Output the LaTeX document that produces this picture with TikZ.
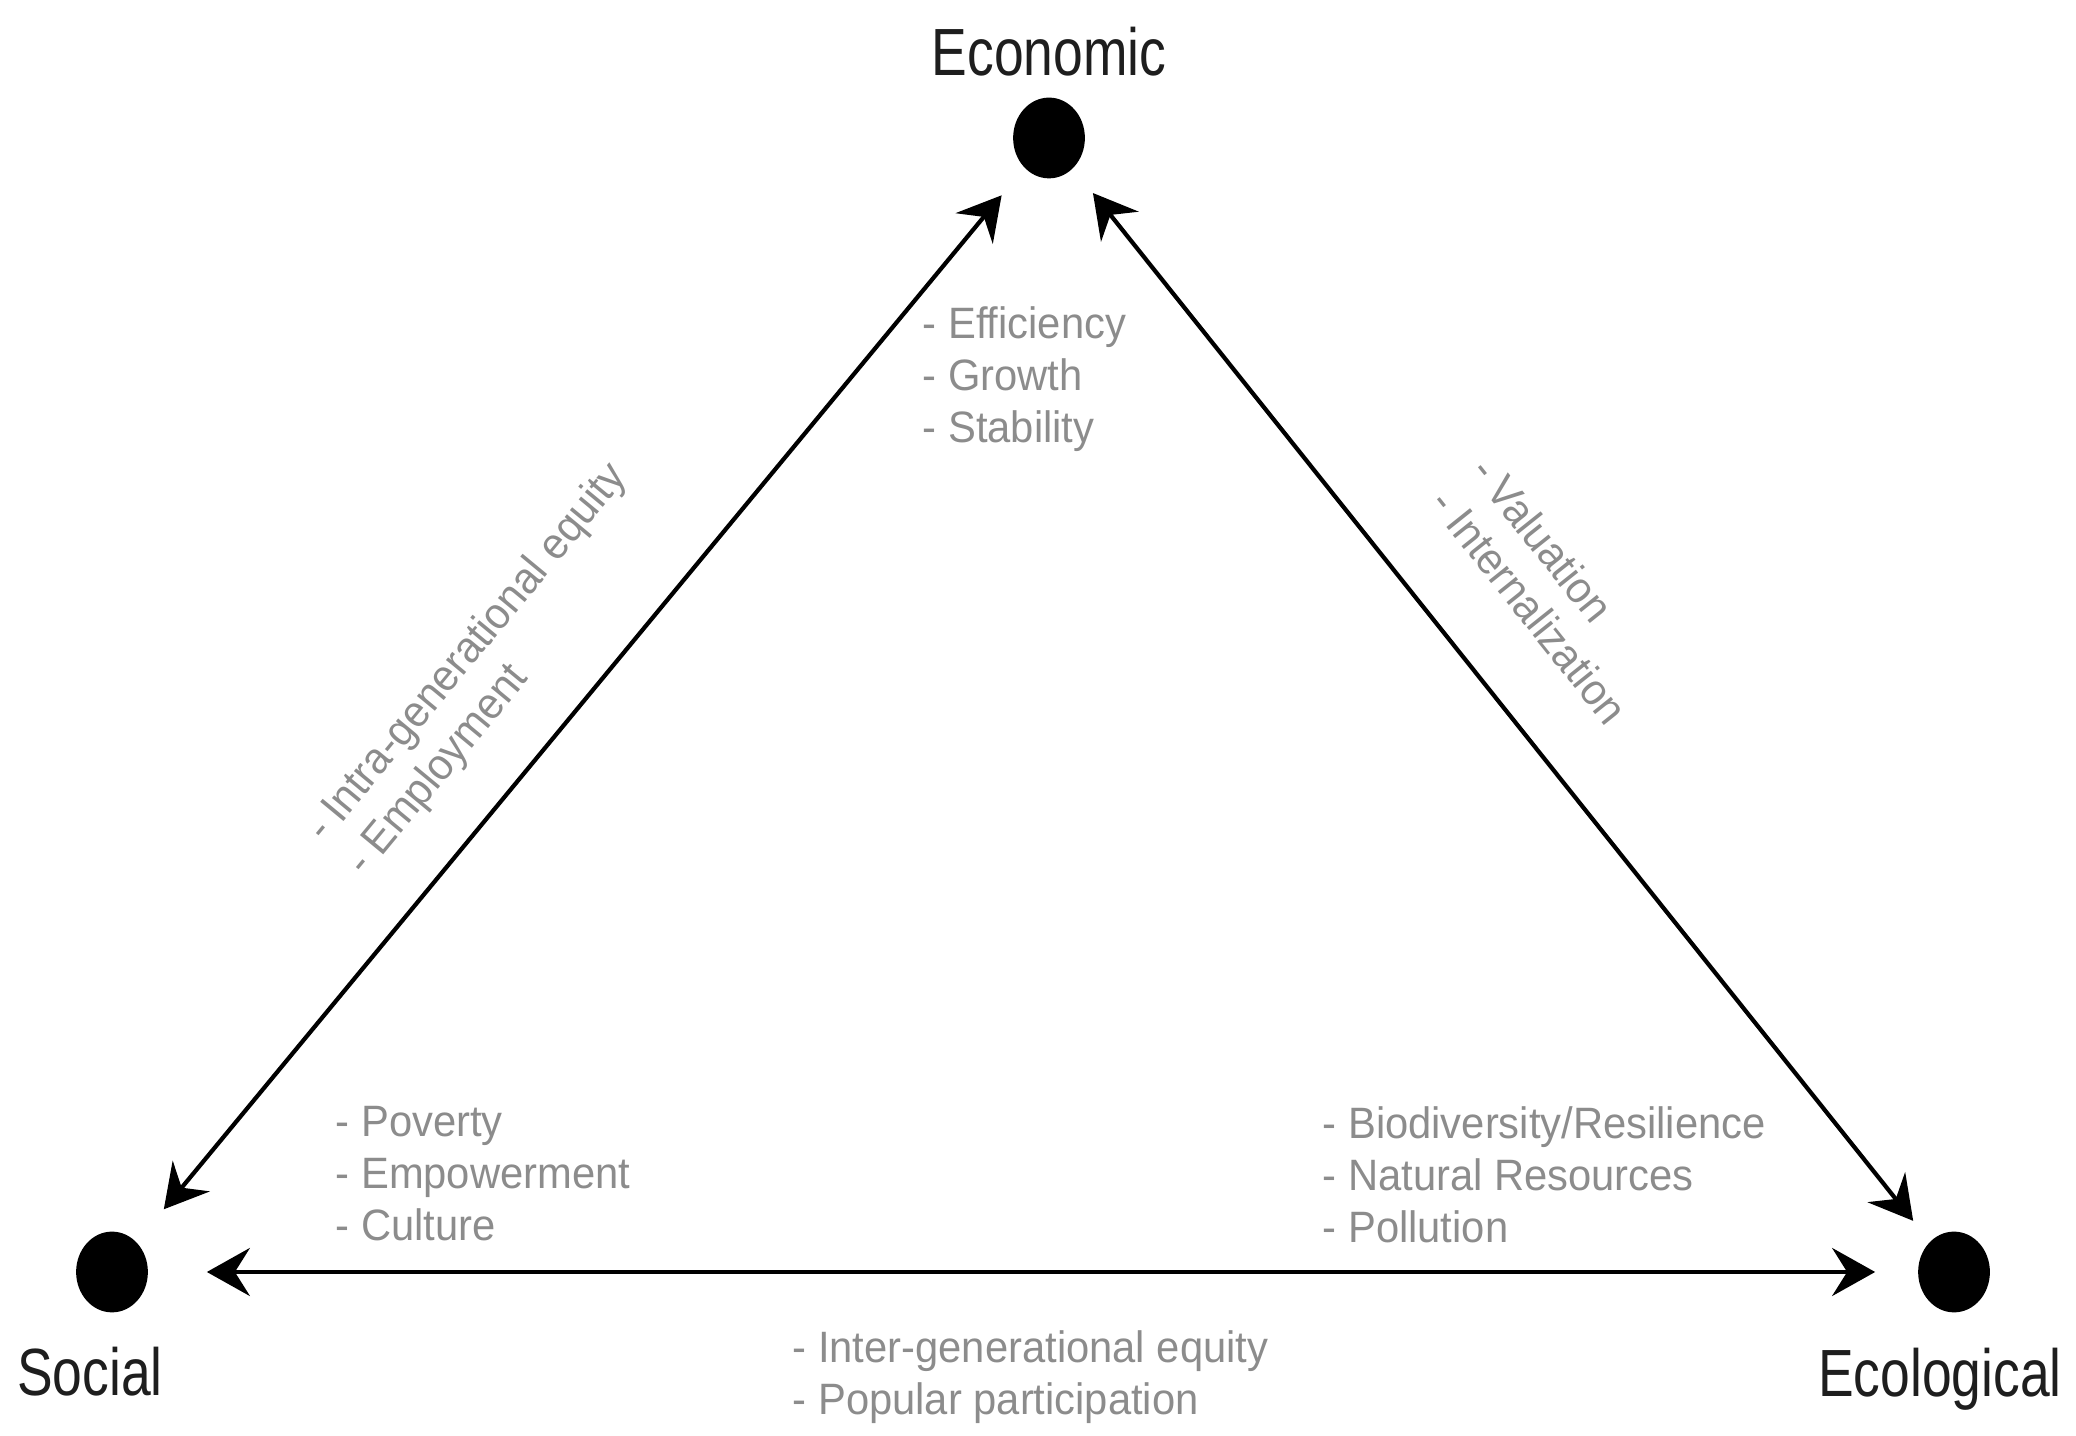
\documentclass[tikz,border=0pt]{standalone}
\usepackage{fontspec}
\usepackage{tikz}
\usetikzlibrary{arrows.meta, positioning, shapes.geometric}
\newfontfamily\lblfont[FakeStretch=0.8]{Liberation Sans}
\newfontfamily\lstfont[FakeStretch=0.95]{Liberation Sans}
\definecolor{cDot}{HTML}{000000}
\definecolor{cLbl}{HTML}{1E1E1E}
\definecolor{cLst}{HTML}{8C8C8C}

\begin{document}
\begin{tikzpicture}[
    dot/.style={ellipse, fill=cDot, draw=cDot, minimum width=7mm, minimum height=7.9mm,
                inner sep=0pt, line width=0.5pt},
    lbl/.style={font=\fontsize{19}{22}\selectfont\lblfont, text=cLbl, inner sep=0pt},
    lst/.style={font=\fontsize{12.5}{14.8}\selectfont\lstfont, text=cLst, align=left, inner sep=0pt},
    ar/.style={{Stealth[length=4.3mm,width=4.8mm,inset=1.5mm]}-{Stealth[length=4.3mm,width=4.8mm,inset=1.5mm]},
               line width=1.2pt},
]
\useasboundingbox (0,0) rectangle (20.76,14.35);

% === CORNERS: Economic, Social, Ecological ===
\node[dot] (econ) at (10.49,12.97) {};
\node[lbl, above=2.1mm of econ] (econL) {Economic};

\node[dot] (soc) at (1.12,1.63) {};
\node[lbl, below=3.4mm of soc, xshift=-2.2mm] (socL) {Social};

\node[dot] (ecl) at (19.54,1.63) {};
\node[lbl, below=3.5mm of ecl, xshift=-1.4mm] (eclL) {Ecological};

% === EDGES ===
\draw[ar, shorten <=4.3mm, shorten >=3.6mm] (soc) -- (econ);
\draw[ar, shorten <=3.2mm, shorten >=2.7mm] (econ) -- (ecl);
\draw[ar, shorten <=5.9mm, shorten >=4.3mm] (soc) -- (ecl);

% === LISTS at the corners ===
\node[lst, anchor=north west] (econLst) at (9.22,11.29) {- Efficiency\\- Growth\\- Stability};
\node[lst, anchor=north west] (socLst) at (3.35,3.29) {- Poverty\\- Empowerment\\- Culture};
\node[lst, anchor=north west] (eclLst) at (13.22,3.29) {- Biodiversity/Resilience\\- Natural Resources\\- Pollution};

% === LISTS along the edges ===
\node[lst, rotate=50.4] (socEconLst) at (4.88,7.65) {- Intra-generational equity\\- Employment};
\node[lst, rotate=-51.4] (econEclLst) at (15.5,8.45) {- Valuation\\- Internalization};
\node[lst, anchor=north west] (socEclLst) at (7.92,1.05) {- Inter-generational equity\\- Popular participation};

\end{tikzpicture}
\end{document}
